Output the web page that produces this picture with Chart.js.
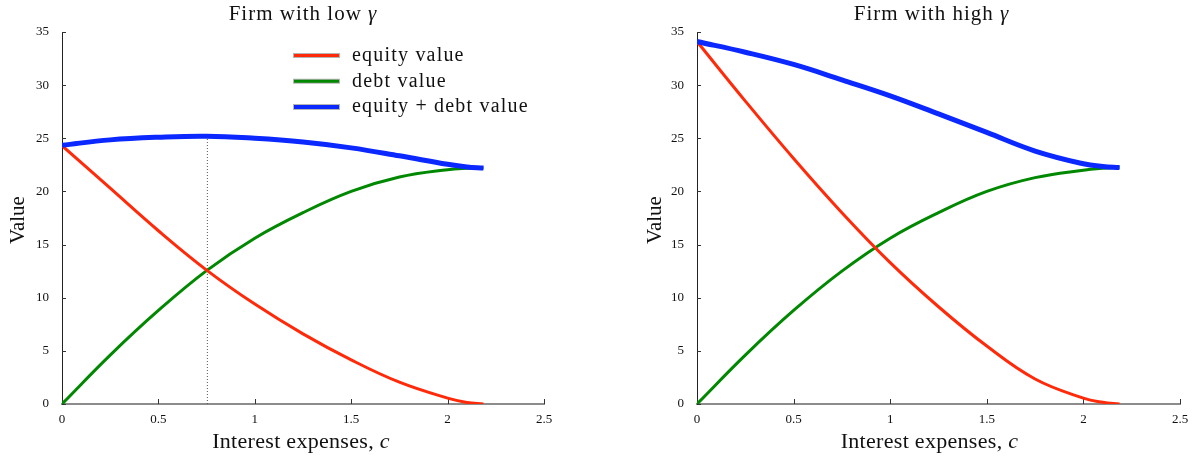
<!DOCTYPE html>
<html>
<head>
<meta charset="utf-8">
<script src="https://cdn.jsdelivr.net/npm/chart.js@4.4.1/dist/chart.umd.min.js"></script>
<style>
  html, body { margin: 0; padding: 0; background: #fff; }
  .row { display: flex; width: 1198px; height: 457px; }
  .panel { position: relative; width: 599px; height: 457px; }
</style>
</head>
<body>
<div class="row">
  <div class="panel"><canvas id="lowGamma"></canvas></div>
  <div class="panel"><canvas id="highGamma"></canvas></div>
</div>
<script>
// Interest expenses c and firm values, low gamma
const cLow      = [0, 0.25, 0.5, 0.75, 1.0, 1.25, 1.5, 1.75, 2.0, 2.1, 2.186];
const equityLow = [24.3, 20.3, 16.3, 12.6, 9.4, 6.6, 4.15, 2.05, 0.55, 0.15, 0];
const debtLow   = [0, 4.6, 8.8, 12.55, 15.6, 18.0, 20.0, 21.35, 22.05, 22.17, 22.2];
const totalLow  = [24.35, 24.85, 25.1, 25.2, 25.0, 24.65, 24.1, 23.35, 22.55, 22.3, 22.2];

// Optimal interest level (dotted marker, low gamma)
const optimumC = 0.754;
const optimumValue = 25.2;

// Interest expenses c and firm values, high gamma
const cHigh      = [0, 0.25, 0.5, 0.75, 1.0, 1.25, 1.5, 1.75, 2.0, 2.1, 2.187];
const equityHigh = [34.1, 28.5, 23.1, 18.0, 13.3, 9.15, 5.45, 2.35, 0.55, 0.16, 0];
const debtHigh   = [0, 4.6, 8.8, 12.5, 15.6, 18.0, 20.0, 21.3, 22.0, 22.17, 22.25];
const totalHigh  = [34.1, 33.1, 31.95, 30.5, 29.0, 27.3, 25.55, 23.8, 22.6, 22.35, 22.25];

// Axis ticks
const xTicks = [0, 0.5, 1, 1.5, 2, 2.5];
const yTicks = [0, 5, 10, 15, 20, 25, 30, 35];

// Labels
const seriesNames = ['equity value', 'debt value', 'equity + debt value'];
const xAxisLabel = ['Interest expenses, ', 'c'];
const yAxisLabel = 'Value';
const titleLow = ['Firm with low ', 'γ'];
const titleHigh = ['Firm with high ', 'γ'];

const COLORS = { equity: '#ff2a0a', debt: '#008800', total: '#0a28ff' };
const FONT = '"Liberation Serif", "DejaVu Serif", serif';

const pts = (xs, ys) => xs.map((x, i) => ({ x: x, y: ys[i] }));

function drawParts(ctx, parts, cx, cy, size, spacing) {
  ctx.letterSpacing = spacing + 'px';
  let total = 0;
  const widths = parts.map((p, i) => {
    ctx.font = (i === 1 ? 'italic ' : '') + size + 'px ' + FONT;
    const w = ctx.measureText(p).width;
    total += w;
    return w;
  });
  let x = cx - total / 2;
  parts.forEach((p, i) => {
    ctx.font = (i === 1 ? 'italic ' : '') + size + 'px ' + FONT;
    ctx.fillText(p, x, cy);
    x += widths[i];
  });
  ctx.letterSpacing = '0px';
}

// Inward tick marks on both axes
const innerTicks = {
  id: 'innerTicks',
  beforeDatasetsDraw(chart) {
    const { ctx, chartArea: a, scales } = chart;
    ctx.save();
    ctx.strokeStyle = '#333';
    ctx.lineWidth = 1;
    ctx.beginPath();
    yTicks.forEach(v => {
      const y = Math.round(scales.y.getPixelForValue(v)) + 0.5;
      ctx.moveTo(a.left, y); ctx.lineTo(a.left + 4, y);
    });
    xTicks.forEach(v => {
      const x = Math.round(scales.x.getPixelForValue(v)) + 0.5;
      ctx.moveTo(x, a.bottom); ctx.lineTo(x, a.bottom - 5);
    });
    ctx.stroke();
    ctx.restore();
  }
};

// Titles, axis names and the legend
const decorations = {
  id: 'decorations',
  afterDraw(chart, args, opts) {
    const { ctx, chartArea: a } = chart;
    const cx = (a.left + a.right) / 2 + opts.shift;
    ctx.save();
    ctx.fillStyle = '#111';
    ctx.textBaseline = 'middle';
    ctx.textAlign = 'left';
    drawParts(ctx, opts.title, cx, 14, 21, 1);
    drawParts(ctx, xAxisLabel, cx - 2, 442, 22, 0.3);
    ctx.save();
    ctx.translate(opts.yLabelX, (a.top + a.bottom) / 2 + 2);
    ctx.rotate(-Math.PI / 2);
    ctx.textAlign = 'center';
    ctx.font = '21px ' + FONT;
    ctx.fillText(yAxisLabel, 0, 0);
    ctx.restore();

    if (opts.legend) {
      const colors = [COLORS.equity, COLORS.debt, COLORS.total];
      const widths = [3, 3, 4];
      seriesNames.forEach((name, i) => {
        const y = 55.5 + i * 25.8;
        ctx.lineCap = 'butt';
        ctx.strokeStyle = 'rgba(150,150,150,0.7)';
        ctx.lineWidth = widths[i] + 2;
        ctx.beginPath(); ctx.moveTo(293, y); ctx.lineTo(340, y); ctx.stroke();
        ctx.strokeStyle = colors[i];
        ctx.lineWidth = widths[i];
        ctx.beginPath(); ctx.moveTo(294, y); ctx.lineTo(339, y); ctx.stroke();
        ctx.font = '20px ' + FONT;
        ctx.letterSpacing = '1.2px';
        ctx.fillStyle = '#111';
        ctx.fillText(name, 352, y);
        ctx.letterSpacing = '0px';
      });
    }
    ctx.restore();
  }
};

function makeChart(id, c, equity, debt, total, extra, cfg) {
  const datasets = [
    { label: seriesNames[2], data: pts(c, total), borderColor: COLORS.total, borderWidth: 5, order: 0 },
    { label: seriesNames[0], data: pts(c, equity), borderColor: COLORS.equity, borderWidth: 3, order: 1 },
    { label: seriesNames[1], data: pts(c, debt), borderColor: COLORS.debt, borderWidth: 3, order: 2 }
  ].concat(extra);
  datasets.forEach(d => {
    d.pointRadius = 0;
    d.fill = false;
    if (d.tension === undefined) d.tension = 0.4;
  });

  return new Chart(document.getElementById(id), {
    type: 'line',
    data: { datasets },
    options: {
      responsive: true,
      maintainAspectRatio: false,
      animation: false,
      devicePixelRatio: 1,
      layout: { padding: { top: 32, right: cfg.padRight, left: 0, bottom: 0 } },
      plugins: {
        legend: { display: false },
        tooltip: { enabled: false },
        title: { display: false },
        decorations: { title: cfg.title, yLabelX: cfg.yLabelX, legend: cfg.legend, shift: cfg.shift }
      },
      scales: {
        x: {
          type: 'linear',
          min: 0, max: 2.5,
          afterBuildTicks: s => { s.ticks = xTicks.map(v => ({ value: v })); },
          afterFit: s => { s.height = 53; },
          grid: { display: false, drawTicks: false },
          border: { display: true, color: '#8c8c8c', width: 2 },
          ticks: { color: '#111', font: { family: FONT, size: 13 }, padding: 8, maxRotation: 0,
                   callback: v => String(v) }
        },
        y: {
          type: 'linear',
          min: 0, max: 35,
          afterBuildTicks: s => { s.ticks = yTicks.map(v => ({ value: v })); },
          afterFit: s => { s.width = cfg.yWidth; },
          grid: { display: false, drawTicks: false },
          border: { display: true, color: '#222', width: 1 },
          ticks: { color: '#111', font: { family: FONT, size: 13 }, padding: 13,
                   callback: v => String(v) }
        }
      }
    },
    plugins: [innerTicks, decorations]
  });
}

makeChart('lowGamma', cLow, equityLow, debtLow, totalLow, [
  { label: 'optimum', data: [{ x: optimumC, y: 0 }, { x: optimumC, y: optimumValue }],
    borderColor: '#555', borderWidth: 1, borderDash: [1, 2], order: 3, tension: 0 }
], { padRight: 55, yWidth: 62, yLabelX: 18, title: titleLow, legend: true, shift: 0 });

makeChart('highGamma', cHigh, equityHigh, debtHigh, totalHigh, [],
  { padRight: 18, yWidth: 98, yLabelX: 56, title: titleHigh, legend: false, shift: -7 });
</script>
</body>
</html>
